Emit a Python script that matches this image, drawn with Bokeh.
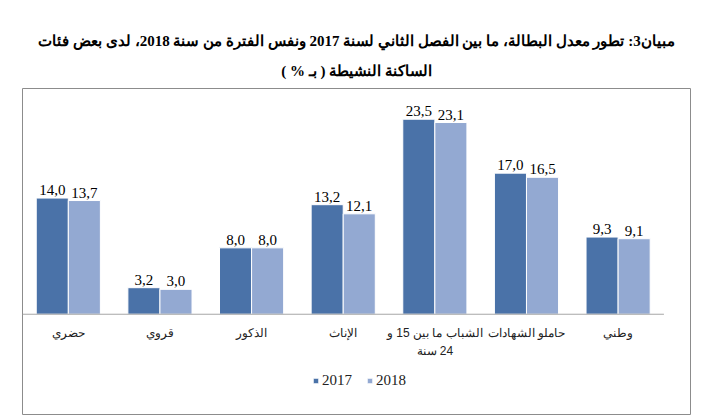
from bokeh.plotting import figure
from bokeh.models import ColumnDataSource, Title, Legend, LegendItem, Range1d
from bokeh.transform import dodge
from bokeh.core.properties import value
from bokeh.embed import file_html
from bokeh.resources import INLINE
import numpy as np

RLM = "\u200f"

categories = ["حضري", "قروي", "الذكور", "الإناث", "الشباب ما بين 15 و\n24 سنة", "حاملو الشهادات", "وطني"]
years = ["2017", "2018"]
values_2017 = [14.0, 3.2, 8.0, 13.2, 23.5, 17.0, 9.3]
values_2018 = [13.7, 3.0, 8.0, 12.1, 23.1, 16.5, 9.1]
title_line1 = "مبيان3: تطور معدل البطالة، ما بين الفصل الثاني لسنة 2017 ونفس الفترة من سنة 2018، لدى بعض فئات"
title_line2 = "الساكنة النشيطة ( بـ % )"
colors = ["#4A72A8", "#93A9D2"]


def rtl(s):
    return "\n".join(RLM + line + RLM for line in s.split("\n"))


def fmt(v):
    return f"{v:.1f}".replace(".", ",")


n = len(categories)
src = ColumnDataSource(dict(
    x=np.arange(n),
    cat=[rtl(c) for c in categories],
    v17=values_2017,
    v18=values_2018,
    l17=[fmt(v) for v in values_2017],
    l18=[fmt(v) for v in values_2018],
    zero=[0] * n,
))

p = figure(width=710, height=415, output_backend="svg", toolbar_location=None,
           title=None, x_axis_type=None, y_axis_type=None,
           x_range=Range1d(-0.5, 6.79), y_range=Range1d(-12.2, 27.2),
           min_border_left=22, min_border_right=20, min_border_bottom=0,
           min_border_top=88)
p.outline_line_color = "#8C8C8C"
p.outline_line_width = 1
p.background_fill_color = "white"
p.border_fill_color = "white"

p.add_layout(Title(text=rtl(title_line2), align="center", text_font_size="15px",
                   text_font="Liberation Serif", text_font_style="bold", text_color="black",
                   standoff=20, offset=6), "above")
p.add_layout(Title(text=rtl(title_line1), align="center", text_font_size="15px",
                   text_font="Liberation Serif", text_font_style="bold", text_color="black",
                   standoff=4, offset=6), "above")

bw = 0.35
r17 = p.vbar(x=dodge("x", -bw / 2), top="v17", width=bw, source=src,
             fill_color=colors[0], line_color="white", line_width=1)
r18 = p.vbar(x=dodge("x", bw / 2), top="v18", width=bw, source=src,
             fill_color=colors[1], line_color="white", line_width=1)

# baseline
p.segment(x0=[-0.5], y0=[0], x1=[n - 0.5], y1=[0], line_color="#A6A6A6", line_width=1)

for field, lab, off in (("v17", "l17", -bw / 2), ("v18", "l18", bw / 2)):
    p.text(x=dodge("x", off), y=field, text=lab, source=src, text_align="center",
           text_baseline="alphabetic", y_offset=-8, text_font=value("Liberation Serif"),
           text_font_size="15px", text_color="black")

p.text(x="x", y="zero", text="cat", source=src, text_align="center", text_baseline="top",
       y_offset=12, text_font=value("Liberation Sans"), text_font_size="12px",
       text_color="#222222", text_line_height=1.3)

legend = Legend(items=[LegendItem(label=years[0], renderers=[r17]),
                       LegendItem(label=years[1], renderers=[r18])],
                orientation="horizontal", location=(290, 26),
                glyph_width=7, glyph_height=7, label_standoff=3, spacing=14,
                padding=0, margin=0, border_line_color=None, background_fill_alpha=0,
                label_text_font="Liberation Serif", label_text_font_size="15px",
                label_height=14, label_text_color="#222222")
p.add_layout(legend)

open("out.html", "w").write(file_html(p, INLINE))
